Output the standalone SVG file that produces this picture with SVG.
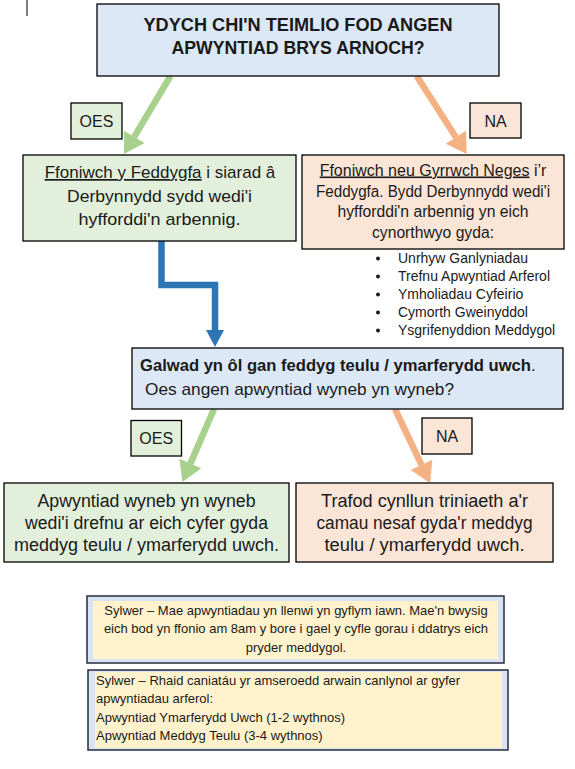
<svg xmlns="http://www.w3.org/2000/svg" width="575" height="769" viewBox="0 0 575 769">
<style>
text{font-family:"Liberation Sans",Arial,sans-serif;fill:#1a1a1a}
.box{stroke:#000;stroke-width:1.3}
.blue{fill:#dce8f5}
.green{fill:#e2efda}
.orange{fill:#fbe5d6}
.t17{font-size:17px;text-anchor:middle}
.t16{font-size:16px;text-anchor:middle}
.t18{font-size:18px;text-anchor:middle}
.lbl{font-size:16px;text-anchor:middle}
.bul{font-size:14px}
.note{font-size:13px}
.u{text-decoration:underline}
.nout{fill:#dae3f3;stroke:#252d40;stroke-width:1.5}
.nin{fill:#fff2cc}
.ag{stroke:#a9d18e;stroke-width:6.5;fill:none}
.ao{stroke:#f4b183;stroke-width:6.5;fill:none}
.ab{stroke:#2e75b6;stroke-width:6.5;fill:none}
</style>
<defs>
<marker id="mg" markerUnits="userSpaceOnUse" markerWidth="20" markerHeight="24" refX="0" refY="12" orient="auto" overflow="visible"><path d="M0,0 L20,12 L0,24 Z" fill="#a9d18e"/></marker>
<marker id="mo" markerUnits="userSpaceOnUse" markerWidth="20" markerHeight="24" refX="0" refY="12" orient="auto" overflow="visible"><path d="M0,0 L20,12 L0,24 Z" fill="#f4b183"/></marker>
<marker id="mb" markerUnits="userSpaceOnUse" markerWidth="17" markerHeight="18" refX="0" refY="9" orient="auto" overflow="visible"><path d="M0,0 L17,9 L0,18 Z" fill="#2e75b6"/></marker>
</defs>
<rect width="575" height="769" fill="#fff"/>
<line x1="27" y1="0" x2="27" y2="16" stroke="#000" stroke-width="1"/>

<g id="connectors">
<line class="ag" x1="170.5" y1="76" x2="134.2" y2="136.8" marker-end="url(#mg)"/>
<line class="ao" x1="416.7" y1="76" x2="455.9" y2="137.2" marker-end="url(#mo)"/>
<polyline class="ab" points="161.5,241 161.5,285 215,285 215,330" marker-end="url(#mb)"/>
<line class="ag" x1="214" y1="409" x2="190.4" y2="463.6" marker-end="url(#mg)"/>
<line class="ao" x1="395" y1="409" x2="421.5" y2="464.9" marker-end="url(#mo)"/>
</g>

<g id="q1">
<rect class="box blue" x="97" y="4" width="402" height="72"/>
<text x="298" y="31" font-size="18.5" font-weight="bold" text-anchor="middle" textLength="309" lengthAdjust="spacingAndGlyphs">YDYCH CHI'N TEIMLIO FOD ANGEN</text>
<text x="298" y="54" font-size="18.5" font-weight="bold" text-anchor="middle" textLength="253" lengthAdjust="spacingAndGlyphs">APWYNTIAD BRYS ARNOCH?</text>
</g>

<g id="oes1">
<rect class="box green" x="71" y="103" width="51" height="36"/>
<text class="lbl" x="96.5" y="127">OES</text>
</g>
<g id="na1">
<rect class="box orange" x="470" y="103" width="51" height="35"/>
<text class="lbl" x="495.5" y="126.5">NA</text>
</g>

<g id="yes1">
<rect class="box green" x="23" y="155" width="273" height="86"/>
<text class="t17" x="160" y="178"><tspan class="u">Ffoniwch y Feddygfa</tspan> i siarad â</text>
<text class="t17" x="159.5" y="202" textLength="185" lengthAdjust="spacingAndGlyphs">Derbynnydd sydd wedi'i</text>
<text class="t17" x="159.5" y="225" textLength="162" lengthAdjust="spacingAndGlyphs">hyfforddi'n arbennig.</text>
</g>

<g id="no1">
<rect class="box orange" x="302" y="155" width="262" height="94"/>
<text class="t16" x="433" y="175.5"><tspan class="u">Ffoniwch neu Gyrrwch Neges</tspan> i’r</text>
<text class="t16" x="433" y="196.5" textLength="234" lengthAdjust="spacingAndGlyphs">Feddygfa. Bydd Derbynnydd wedi'i</text>
<text class="t16" x="433" y="217" textLength="191" lengthAdjust="spacingAndGlyphs">hyfforddi'n arbennig yn eich</text>
<text class="t16" x="433" y="238" textLength="122" lengthAdjust="spacingAndGlyphs">cynorthwyo gyda:</text>
</g>

<g id="list1">
<circle cx="378" cy="258.5" r="2" fill="#1a1a1a"/>
<text class="bul" x="398" y="263">Unrhyw Ganlyniadau</text>
<circle cx="378" cy="276.5" r="2" fill="#1a1a1a"/>
<text class="bul" x="398" y="281">Trefnu Apwyntiad Arferol</text>
<circle cx="378" cy="294.5" r="2" fill="#1a1a1a"/>
<text class="bul" x="398" y="299">Ymholiadau Cyfeirio</text>
<circle cx="378" cy="312.5" r="2" fill="#1a1a1a"/>
<text class="bul" x="398" y="317">Cymorth Gweinyddol</text>
<circle cx="378" cy="330.5" r="2" fill="#1a1a1a"/>
<text class="bul" x="398" y="335">Ysgrifenyddion Meddygol</text>
</g>

<g id="q2">
<rect class="box blue" x="132" y="348" width="431" height="61"/>
<text x="140" y="371" font-size="16.6"><tspan font-weight="bold">Galwad yn ôl gan feddyg teulu / ymarferydd uwch</tspan>.</text>
<text x="145" y="395" font-size="17" textLength="309" lengthAdjust="spacingAndGlyphs">Oes angen apwyntiad wyneb yn wyneb?</text>
</g>

<g id="oes2">
<rect class="box green" x="131" y="420.5" width="50.5" height="35.5"/>
<text class="lbl" x="156.2" y="444">OES</text>
</g>
<g id="na2">
<rect class="box orange" x="422" y="418" width="50" height="36"/>
<text class="lbl" x="447" y="442">NA</text>
</g>

<g id="yes2">
<rect class="box green" x="4" y="483" width="285" height="79"/>
<text class="t18" x="146.5" y="507" textLength="218" lengthAdjust="spacingAndGlyphs">Apwyntiad wyneb yn wyneb</text>
<text class="t18" x="146.5" y="529" textLength="243" lengthAdjust="spacingAndGlyphs">wedi'i drefnu ar eich cyfer gyda</text>
<text class="t18" x="146.5" y="551" textLength="265" lengthAdjust="spacingAndGlyphs">meddyg teulu / ymarferydd uwch.</text>
</g>

<g id="no2">
<rect class="box orange" x="296" y="483" width="257" height="79"/>
<text class="t18" x="424.5" y="507" textLength="207" lengthAdjust="spacingAndGlyphs">Trafod cynllun triniaeth a'r</text>
<text class="t18" x="424.5" y="529" textLength="216" lengthAdjust="spacingAndGlyphs">camau nesaf gyda'r meddyg</text>
<text class="t18" x="424.5" y="551" textLength="200" lengthAdjust="spacingAndGlyphs">teulu / ymarferydd uwch.</text>
</g>

<g id="note1">
<rect class="nout" x="87" y="596" width="417" height="67"/>
<rect class="nin" x="93" y="601" width="405" height="58"/>
<text class="note" x="296" y="614.5" text-anchor="middle">Sylwer – Mae apwyntiadau yn llenwi yn gyflym iawn. Mae'n bwysig</text>
<text class="note" x="296" y="633" text-anchor="middle">eich bod yn ffonio am 8am y bore i gael y cyfle gorau i ddatrys eich</text>
<text class="note" x="296" y="651.5" text-anchor="middle">pryder meddygol.</text>
</g>

<g id="note2">
<rect class="nout" x="88" y="670" width="420" height="80"/>
<rect class="nin" x="95" y="672" width="407" height="76"/>
<text class="note" x="96" y="684.5">Sylwer – Rhaid caniatáu yr amseroedd arwain canlynol ar gyfer</text>
<text class="note" x="96" y="703">apwyntiadau arferol:</text>
<text class="note" x="96" y="721.5">Apwyntiad Ymarferydd Uwch (1-2 wythnos)</text>
<text class="note" x="96" y="740">Apwyntiad Meddyg Teulu (3-4 wythnos)</text>
</g>
</svg>
